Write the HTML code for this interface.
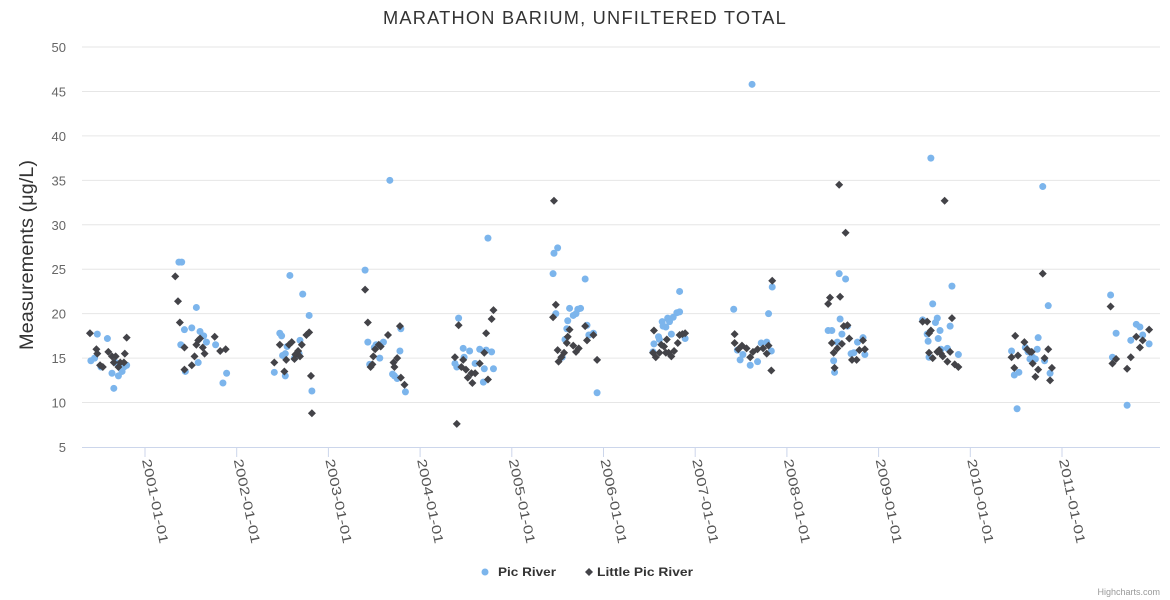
<!DOCTYPE html>
<html><head><meta charset="utf-8"><style>
body{margin:0;background:#fff;font-family:"Liberation Sans",sans-serif}
svg{display:block}
</style></head><body>
<svg id="chart" width="1170" height="600" xmlns="http://www.w3.org/2000/svg">
<text x="585" y="24" text-anchor="middle" font-size="18" letter-spacing="1.2" fill="#333" textLength="404" lengthAdjust="spacingAndGlyphs">MARATHON BARIUM, UNFILTERED TOTAL</text>
<g id="grid"></g>
<g id="ylabels"></g>
<g id="xlabels"></g>
<text transform="translate(33,255) rotate(-90)" text-anchor="middle" font-size="19" fill="#333" textLength="190" lengthAdjust="spacingAndGlyphs">Measurements (μg/L)</text>
<g id="marks"></g>
<g>
<g><circle cx="485" cy="572" r="3.5" fill="#7cb5ec"/><text x="498" y="576" font-size="12" font-weight="bold" fill="#333" textLength="58" lengthAdjust="spacingAndGlyphs">Pic River</text></g>
<g><path d="M589,568 L593,572 L589,576 L585,572 Z" fill="#434348"/><text x="597" y="576" font-size="12" font-weight="bold" fill="#333" textLength="96" lengthAdjust="spacingAndGlyphs">Little Pic River</text></g>
</g>
<text x="1160" y="595" text-anchor="end" font-size="9" fill="#999">Highcharts.com</text>
</svg>
<script>
const yTicks=[5,10,15,20,25,30,35,40,45,50];
const xTickYears=[2001,2002,2003,2004,2005,2006,2007,2008,2009,2010,2011];
const picDates=[2000.41,2000.48,2000.45,2000.59,2000.52,2000.64,2000.66,2000.71,2000.73,2000.75,2000.77,2000.80,2000.68,
2001.37,2001.40,2001.39,2001.43,2001.44,2001.51,2001.56,2001.58,2001.60,2001.64,2001.67,2001.77,2001.85,2001.89,
2002.41,2002.47,2002.49,2002.53,2002.55,2002.58,2002.63,2002.68,2002.69,2002.72,2002.79,2002.82,2002.53,2002.50,
2003.40,2003.43,2003.45,2003.50,2003.52,2003.56,2003.67,2003.70,2003.72,2003.75,2003.78,2003.79,2003.84,2003.60,
2004.42,2004.47,2004.38,2004.40,2004.48,2004.54,2004.60,2004.65,2004.72,2004.78,2004.69,2004.80,2004.74,2004.70,
2005.45,2005.46,2005.50,2005.48,2005.63,2005.61,2005.60,2005.58,2005.67,2005.70,2005.72,2005.75,2005.80,2005.82,2005.84,2005.89,2005.93,2005.55,
2006.54,2006.55,2006.60,2006.61,2006.64,2006.65,2006.68,2006.70,2006.72,2006.74,2006.76,2006.80,2006.83,2006.83,2006.89,
2007.42,2007.80,2007.84,2007.49,2007.60,2007.68,2007.72,2007.78,2007.83,2007.52,2007.62,2007.46,
2008.57,2008.64,2008.45,2008.49,2008.58,2008.60,2008.55,2008.51,2008.52,2008.70,2008.73,2008.77,2008.83,2008.85,2008.66,
2009.48,2009.53,2009.59,2009.64,2009.62,2009.67,2009.54,2009.65,2009.68,2009.75,2009.78,2009.80,2009.87,2009.55,2009.57,
2010.45,2010.48,2010.51,2010.53,2010.60,2010.63,2010.65,2010.71,2010.73,2010.74,2010.81,2010.85,2010.87,2010.79,2010.68,
2011.53,2011.59,2011.55,2011.71,2011.75,2011.81,2011.85,2011.88,2011.95];
const picValues=[14.7,17.7,15.0,17.2,14.0,13.3,11.6,13.0,14.0,13.5,14.0,14.2,14.5,
25.8,25.8,16.5,18.2,13.5,18.4,20.7,14.5,18.0,17.5,16.8,16.5,12.2,13.3,
13.4,17.8,17.5,15.5,16.3,24.3,15.0,15.5,17.0,22.2,19.8,11.3,13.0,15.3,
24.9,16.8,14.3,16.2,16.5,15.0,35.0,13.2,13.0,12.7,15.8,18.3,11.2,16.8,
19.5,16.1,14.4,14.0,15.1,15.8,14.4,16.0,15.9,15.7,12.3,13.8,28.5,13.8,
24.5,26.8,27.4,20.0,20.6,19.2,18.3,17.1,19.8,20.0,20.5,20.6,23.9,18.7,17.6,17.8,11.1,15.1,
15.7,16.6,17.4,17.1,19.1,18.6,18.5,19.5,19.1,17.7,19.6,20.1,20.2,22.5,17.2,
20.5,20.0,23.0,14.8,14.2,14.6,16.7,16.8,15.8,15.4,45.8,15.9,
24.5,23.9,18.1,18.1,19.4,17.7,16.8,14.7,13.4,15.5,15.6,16.8,17.3,15.4,18.6,
19.3,17.7,21.1,19.5,19.0,18.1,16.9,17.2,16.0,16.1,18.6,23.1,15.4,15.1,37.5,
15.8,13.1,9.3,13.4,16.2,15.7,14.9,14.9,16.0,17.3,14.7,20.9,13.3,34.3,15.1,
22.1,17.8,15.1,9.7,17.0,18.8,18.5,17.6,16.6];
const littleDates=[2000.40,2000.47,2000.48,2000.51,2000.54,2000.60,2000.64,2000.66,2000.68,2000.71,2000.73,2000.77,2000.78,2000.80,
2001.33,2001.36,2001.38,2001.43,2001.43,2001.51,2001.54,2001.56,2001.58,2001.60,2001.63,2001.65,2001.76,2001.82,2001.88,
2002.41,2002.47,2002.52,2002.54,2002.57,2002.60,2002.64,2002.67,2002.69,2002.71,2002.76,2002.79,2002.81,2002.82,2002.63,
2003.40,2003.43,2003.46,2003.48,2003.51,2003.55,2003.65,2003.71,2003.72,2003.75,2003.78,2003.79,2003.83,2003.57,2003.49,
2004.38,2004.42,2004.47,2004.45,2004.50,2004.52,2004.57,2004.56,2004.60,2004.65,2004.70,2004.72,2004.78,2004.80,2004.74,2004.40,
2005.46,2005.48,2005.45,2005.50,2005.51,2005.54,2005.57,2005.60,2005.61,2005.63,2005.67,2005.70,2005.73,2005.80,2005.82,2005.89,2005.93,
2006.55,2006.54,2006.57,2006.61,2006.63,2006.66,2006.69,2006.68,2006.71,2006.74,2006.77,2006.81,2006.83,2006.86,2006.89,
2007.43,2007.43,2007.47,2007.51,2007.56,2007.60,2007.63,2007.68,2007.74,2007.78,2007.80,2007.83,2007.84,
2008.57,2008.64,2008.45,2008.47,2008.58,2008.62,2008.66,2008.68,2008.49,2008.55,2008.51,2008.60,2008.52,2008.71,2008.76,2008.79,2008.83,2008.85,
2009.48,2009.53,2009.55,2009.57,2009.55,2009.59,2009.64,2009.66,2009.68,2009.70,2009.75,2009.78,2009.80,2009.83,2009.87,2009.72,
2010.49,2010.45,2010.52,2010.48,2010.59,2010.62,2010.65,2010.68,2010.71,2010.74,2010.79,2010.81,2010.85,2010.87,2010.89,2010.67,
2011.53,2011.55,2011.59,2011.71,2011.75,2011.81,2011.85,2011.88,2011.95];
const littleValues=[17.8,16.0,15.5,14.2,14.0,15.7,15.2,14.5,15.2,14.0,14.5,14.5,15.5,17.3,
24.2,21.4,19.0,13.7,16.2,14.2,15.2,16.5,17.0,17.2,16.2,15.5,17.4,15.8,16.0,
14.5,16.5,13.5,14.8,16.5,16.8,15.4,15.8,15.2,16.5,17.6,17.9,13.0,8.8,14.9,
22.7,19.0,14.0,14.3,16.0,16.5,17.6,14.5,14.0,15.0,18.6,12.8,12.0,16.3,15.2,
15.1,18.7,14.8,14.0,13.7,12.8,12.2,13.3,13.3,14.4,15.6,17.8,19.4,20.4,12.6,7.6,
32.7,21.0,19.6,15.9,14.6,15.1,15.6,16.7,17.4,18.2,16.4,15.7,16.1,18.6,17.0,17.6,14.8,
18.1,15.6,15.1,15.6,16.5,16.3,17.1,15.6,15.6,15.2,15.8,16.7,17.6,17.7,17.8,
17.7,16.7,16.0,16.4,16.1,15.1,15.7,16.0,16.1,15.5,16.4,13.6,23.7,
34.5,29.1,21.1,21.8,21.9,18.6,18.7,17.2,16.7,16.1,15.6,16.6,13.9,14.8,14.8,15.9,17.0,16.0,
19.1,19.1,17.8,18.1,15.6,15.0,15.7,15.9,15.5,15.2,14.6,15.7,19.5,14.3,14.0,32.7,
17.5,15.1,15.3,13.9,16.8,16.0,15.7,14.4,12.9,13.7,24.5,15.0,16.0,12.5,13.9,15.7,
20.8,14.4,14.9,13.8,15.1,17.4,16.2,17.0,18.2];
const NS="http://www.w3.org/2000/svg";
const X0=82,X1=1160,Y0=447,Y1=47;
function xScale(t){return 145+(t-2001)*91.7;}
function yScale(v){return Y0-(v-5)/(50-5)*(Y0-Y1);}
function mk(tag,attrs,parent){const e=document.createElementNS(NS,tag);for(const k in attrs)e.setAttribute(k,attrs[k]);parent.appendChild(e);return e;}
const grid=document.getElementById('grid'),yl=document.getElementById('ylabels'),xl=document.getElementById('xlabels'),marks=document.getElementById('marks');
yTicks.forEach(v=>{
  const y=yScale(v);
  if(v>5){const g=mk('line',{x1:X0,x2:X1,y1:y,y2:y,stroke:'#e6e6e6','stroke-width':1},grid);
  
  }
  const t=mk('text',{x:66,y:y+5,'text-anchor':'end','font-size':13,fill:'#666'},yl);
  t.textContent=v;
  
  
});
const ax=mk('line',{x1:X0,x2:X1,y1:Y0+0.5,y2:Y0+0.5,stroke:'#ccd6eb','stroke-width':1},grid);


xTickYears.forEach(yr=>{
  const x=xScale(yr);
  const tk=mk('line',{x1:x,x2:x,y1:Y0,y2:Y0+10,stroke:'#ccd6eb'},grid);
  
  
  const t=mk('text',{transform:`translate(${x-3},${Y0+13}) rotate(78)`,'font-size':13,fill:'#555',textLength:86,lengthAdjust:'spacingAndGlyphs'},xl);
  t.textContent=yr+'-01-01';
  
  
});
picDates.forEach((d,i)=>{
  const c=mk('circle',{cx:xScale(d),cy:yScale(picValues[i]),r:3.5,fill:'#7cb5ec'},marks);
  
  
});
littleDates.forEach((d,i)=>{
  const x=xScale(d),y=yScale(littleValues[i]);
  const p=mk('path',{d:`M${x},${y-4} L${x+4},${y} L${x},${y+4} L${x-4},${y} Z`,fill:'#434348'},marks);
  
  
});
</script>
</body></html>
